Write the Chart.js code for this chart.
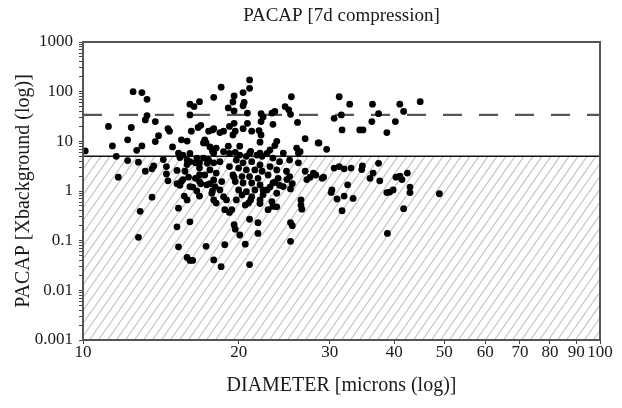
<!DOCTYPE html>
<html>
<head>
<meta charset="utf-8">
<script src="https://cdn.jsdelivr.net/npm/chart.js@4.4.1/dist/chart.umd.min.js"></script>
<style>
  html, body { margin: 0; padding: 0; background: #fff; }
  #wrap { width: 622px; height: 408px; }
</style>
</head>
<body>
<div id="wrap"><canvas id="chart"></canvas></div>
<script>
const SERIF = "'Liberation Serif', 'Times New Roman', serif"
const TEXT = "#1a1a1a"

const chartTitle = "PACAP [7d compression]"
const xTickValues = [10, 20, 30, 40, 50, 60, 70, 80, 90, 100]
const yTickValues = [0.001, 0.01, 0.1, 1, 10, 100, 1000]
const cutoffLevel = 5   // solid line, hatched below
const upperLevel = 34   // dashed line

// cell diameter (microns) and PACAP signal (x background)
const diameter = [
  // above the solid line
  10.1, 11.2, 11.4, 11.6, 12.2, 12.4, 12.5, 12.7, 13.0, 13.3,
  13.3, 13.2, 13.0, 13.8, 13.8, 14.0, 14.6, 14.7, 14.9, 15.5,
  15.9, 15.3, 16.1, 16.4, 16.8, 16.1, 16.9, 16.7, 16.2, 17.2,
  17.3, 17.5, 17.8, 17.6, 17.8, 21.0, 21.0, 18.5, 17.9, 19.6,
  19.5, 20.4, 20.5, 20.4, 19.1, 19.6, 20.8, 22.1, 22.3, 23.5,
  23.2, 24.6, 25.0, 25.2, 25.3, 26.0, 23.3, 22.1, 20.8, 20.4,
  19.6, 19.2, 19.7, 19.5, 17.9, 18.4, 18.7, 21.2, 21.9, 22.1,
  31.3, 30.6, 31.6, 31.7, 26.9, 28.6, 29.6, 22.0, 23.7, 23.5,
  23.0, 25.9, 26.3, 24.4, 20.1, 19.1, 18.1, 17.9, 18.7, 21.1,
  22.0, 32.8, 34.3, 34.8, 36.3, 37.3, 36.2, 38.7, 40.2, 41.0,
  41.7, 44.9, 17.1, 28.5,
  // below the solid line
  12.2, 12.8, 13.7, 13.6, 13.2, 14.3, 14.5, 11.7, 13.6, 12.9,
  12.8, 14.5, 14.6,
  15.2, 15.9, 16.1, 16.5, 16.8, 17.4, 15.4,
  15.2, 15.4, 15.6, 16.0, 16.5, 16.8, 16.9, 16.3, 16.6, 16.8,
  15.7, 15.9, 15.3, 16.1, 15.2, 15.3, 15.9, 16.3, 17.3, 17.6,
  17.8, 17.9, 17.9, 16.1,
  15.6, 16.1, 16.6, 15.9, 16.8, 15.75, 15.5, 16.8, 16.1,
  17.1, 17.5, 17.9, 18.4, 17.6, 18.1, 17.2, 17.9, 18.55, 17.35,
  18.0, 18.4, 17.75, 18.7, 18.1, 18.95, 18.8, 19.4,
  19.2, 19.7, 20.1, 20.7, 21.0, 21.7, 22.2, 19.8, 20.4, 21.2,
  22.0, 19.2, 20.0, 20.7, 21.5, 22.2, 19.5, 20.3, 21.0, 21.8,
  19.7, 20.4, 21.2, 22.0, 20.0, 20.7, 21.5, 22.3, 20.3, 21.2,
  22.0, 20.9,
  22.7, 23.3, 24.0, 25.1, 26.1, 23.0, 23.7, 24.75, 22.8, 23.85,
  25.1, 23.3, 24.4, 22.7, 23.7, 23.2, 22.8, 23.3,
  19.2, 19.8, 20.6, 19.6, 22.3, 21.1, 22.0, 23.0, 23.5, 24.0,
  24.8, 25.4, 25.2, 23.7, 21.0, 21.8, 21.8, 19.6, 19.7, 20.1,
  20.6, 18.8, 18.5, 21.0, 25.2, 25.4, 25.2, 26.4, 26.4, 26.5,
  27.5, 28.2, 29.0, 29.2, 30.2,
  26.9, 27.9, 27.1, 26.1,
  30.6, 31.3, 32.0, 33.0, 34.7, 34.6, 37.3, 36.4, 35.9, 37.5,
  40.3, 41.0, 41.4, 42.4, 42.9, 42.9, 38.7, 39.2, 39.8, 48.9,
  41.7, 38.8, 32.5, 30.3, 31.0, 32.0, 33.3, 31.7,
]
const pacap = [
  6.4, 20, 8.1, 5.0, 10.7, 19, 100, 6.6, 96, 70,
  33, 27, 8.1, 25, 9.9, 13, 18, 16, 7.7, 10.7,
  10.1, 5.8, 56, 50, 63, 34, 21, 19, 16, 10.7,
  9.3, 16, 17, 7.7, 6.3, 172, 117, 123, 77, 82,
  62, 96, 61, 52, 47, 41, 37, 36, 31, 40,
  37, 50, 43, 35, 79, 24, 22, 25, 23, 18,
  23, 20, 16, 13.4, 18, 15, 16, 16, 16.5, 13.4,
  79, 29, 34, 17, 11.3, 9.3, 6.9, 9.6, 10, 8.2,
  6.7, 7.3, 6.2, 5.8, 8, 8, 7.3, 5.8, 6.2, 6.3,
  5.8, 56, 17, 17, 56, 36, 25, 15, 25, 56,
  40, 63, 9.3, 9.3,
  4.1, 3.8, 3.2, 2.8, 2.5, 4.3, 3.1, 1.9, 0.75, 0.39,
  0.117, 2.2, 1.6,
  2.6, 3.4, 3.9, 3.7, 2.9, 3.6, 4.7,
  1.4, 1.3, 1.7, 1.9, 1.8, 2.1, 1.4, 1.2, 1.0, 0.79,
  0.79, 0.66, 0.45, 0.24, 0.19, 0.075, 0.046, 0.040, 0.077, 1.4,
  1.0, 0.66, 0.041, 0.040,
  5.3, 5.7, 4.6, 4.2, 3.7, 2.5, 1.55, 1.55, 1.23,
  4.6, 4.2, 3.7, 3.9, 2.66, 2.3, 2.1, 1.67, 1.55, 1.33,
  1.23, 1.05, 0.9, 0.77, 0.57, 0.66, 0.42, 0.42,
  5.7, 6.0, 5.3, 5.0, 5.7, 5.3, 5.0, 4.2, 3.7, 3.9,
  3.35, 3.1, 2.9, 2.66, 2.66, 2.5, 2.1, 1.95, 1.95, 1.8,
  1.55, 1.45, 1.45, 1.33, 1.05, 0.97, 1.05, 1.05, 0.835, 0.77,
  0.66, 0.57,
  5.7, 4.6, 3.9, 4.2, 3.7, 3.1, 2.66, 2.5, 2.1, 1.8,
  1.95, 1.45, 1.23, 1.05, 0.9, 0.61, 0.42, 0.49,
  0.37, 0.66, 0.52, 1.9, 0.84, 0.66, 0.56, 1.2, 1.5, 1.3,
  1.7, 1.4, 1.1, 0.48, 0.27, 0.23, 0.14, 0.21, 0.17, 0.13,
  0.085, 0.083, 0.030, 0.033, 0.23, 0.20, 0.097, 0.66, 0.52, 0.43,
  1.9, 2.1, 1.8, 1.9, 0.93,
  2.5, 2.3, 1.7, 5.8,
  2.9, 3.1, 2.8, 2.9, 3.2, 2.7, 3.6, 2.3, 1.8, 1.6,
  1.9, 2.0, 1.7, 2.3, 1.2, 0.93, 0.93, 0.95, 1.05, 0.88,
  0.44, 0.14, 1.33, 1.05, 0.69, 0.79, 0.71, 0.40,
]

const points = diameter.map((d, i) => ({ x: d, y: pacap[i] }))

// diagonal hatching under the cutoff line
const hatchPlugin = {
  id: "hatch",
  beforeDatasetsDraw(chart) {
    const { ctx, chartArea: a, scales } = chart
    const yTop = scales.y.getPixelForValue(cutoffLevel)
    const h = a.bottom - yTop
    const slant = h * 0.7
    ctx.save()
    ctx.beginPath()
    ctx.rect(a.left, yTop, a.right - a.left, h)
    ctx.clip()
    ctx.strokeStyle = "#c6c6c6"
    ctx.lineWidth = 1.2
    ctx.beginPath()
    for (let x = a.left - slant; x < a.right + 10; x += 9) {
      ctx.moveTo(x, a.bottom)
      ctx.lineTo(x + slant, yTop)
    }
    ctx.stroke()
    ctx.restore()
  },
}

// box around the plot area + title centred over it
const framePlugin = {
  id: "frame",
  afterDraw(chart) {
    const { ctx, chartArea: a } = chart
    ctx.save()
    ctx.strokeStyle = "#555"
    ctx.lineWidth = 2
    ctx.strokeRect(a.left, a.top, a.right - a.left, a.bottom - a.top)
    ctx.fillStyle = TEXT
    ctx.font = "19px " + SERIF
    ctx.textAlign = "center"
    ctx.textBaseline = "middle"
    ctx.fillText(chartTitle, (a.left + a.right) / 2, 16)
    ctx.restore()
  },
}

new Chart(document.getElementById("chart"), {
  type: "scatter",
  data: {
    datasets: [
      {
        type: "scatter",
        data: points,
        backgroundColor: "#000",
        borderWidth: 0,
        pointRadius: 3.4,
        order: 0,
      },
      {
        type: "line",
        data: [{ x: 10, y: cutoffLevel }, { x: 100, y: cutoffLevel }],
        borderColor: "#111",
        borderWidth: 1.6,
        pointRadius: 0,
        order: 1,
      },
      {
        type: "line",
        data: [{ x: 10, y: upperLevel }, { x: 100, y: upperLevel }],
        borderColor: "#555",
        borderWidth: 2.2,
        borderDash: [19, 17],
        pointRadius: 0,
        order: 1,
      },
    ],
  },
  options: {
    responsive: true,
    maintainAspectRatio: false,
    animation: false,
    devicePixelRatio: 1,
    layout: { padding: { left: 0, right: 22, top: 42, bottom: 0 } },
    plugins: {
      legend: { display: false },
      tooltip: { enabled: false },
      title: { display: false },
    },
    scales: {
      x: {
        type: "logarithmic",
        position: "bottom",
        min: 10,
        max: 100,
        afterBuildTicks: (s) => {
          s.ticks = xTickValues.map((v) => ({ value: v }))
        },
        afterFit: (s) => {
          s.height = 68
        },
        ticks: {
          autoSkip: false,
          maxRotation: 0,
          padding: -2,
          color: TEXT,
          font: { family: SERIF, size: 17 },
          callback: (v) => String(v),
        },
        grid: { drawOnChartArea: false, tickLength: 4, color: "#444" },
        border: { display: false },
        title: {
          display: true,
          text: "DIAMETER [microns (log)]",
          color: TEXT,
          font: { family: SERIF, size: 20 },
          padding: { top: 0, bottom: 10 },
        },
      },
      y: {
        type: "logarithmic",
        position: "left",
        min: 0.001,
        max: 1000,
        afterBuildTicks: (s) => {
          const ticks = []
          yTickValues.forEach((v, i) => {
            ticks.push({ value: v })
            if (i < yTickValues.length - 1) {
              for (let m = 2; m <= 9; m++) ticks.push({ value: v * m })
            }
          })
          s.ticks = ticks
        },
        afterFit: (s) => {
          s.width = 83
        },
        ticks: {
          autoSkip: false,
          padding: 6,
          color: TEXT,
          font: { family: SERIF, size: 17 },
          callback: (v) => (yTickValues.includes(v) ? String(v) : ""),
        },
        grid: { drawOnChartArea: false, tickLength: 4, color: "#444" },
        border: { display: false },
        title: {
          display: true,
          text: "PACAP [Xbackground (log)]",
          color: TEXT,
          font: { family: SERIF, size: 20 },
          padding: { top: 12, bottom: 0 },
        },
      },
    },
  },
  plugins: [hatchPlugin, framePlugin],
})
</script>
</body>
</html>
